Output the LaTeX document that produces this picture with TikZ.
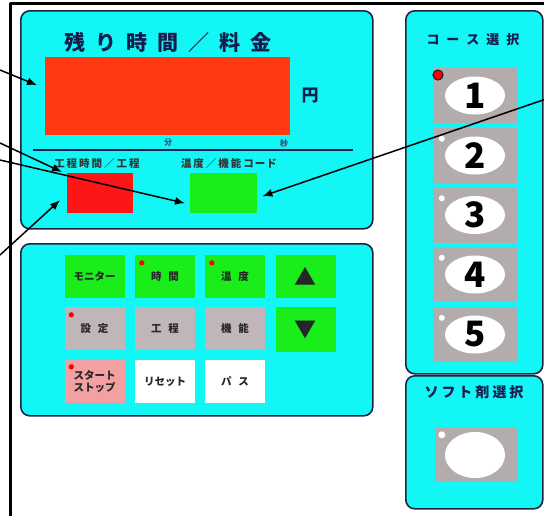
\documentclass[tikz,border=0pt]{standalone}
\usepackage{fontspec}
\newfontfamily\jp{Noto Sans CJK JP}
\usetikzlibrary{arrows.meta,shapes.geometric}
\definecolor{panelcyan}{RGB}{18,246,246}
\definecolor{panelline}{RGB}{28,36,64}
\definecolor{labnavy}{RGB}{22,30,78}
\definecolor{dispred}{RGB}{255,58,18}
\definecolor{boxred}{RGB}{252,22,22}
\definecolor{keygreen}{RGB}{26,238,26}
\definecolor{keygray}{RGB}{192,182,186}
\definecolor{keypink}{RGB}{242,160,162}
\definecolor{coursegray}{RGB}{178,172,172}
\definecolor{ledred}{RGB}{255,0,0}

\begin{document}
\begin{tikzpicture}[x=1pt,y=-1pt,line join=round,
  panel/.style={draw=panelline,line width=1.6pt,fill=panelcyan,rounded corners=9pt,anchor=north west,inner sep=0pt},
  key/.style={minimum width=60pt,minimum height=43pt,inner sep=0pt,text=black!85,font=\jp\bfseries\fontsize{10.5}{11}\selectfont,align=center},
  course/.style={fill=coursegray,minimum width=84pt,minimum height=55pt,inner sep=0pt},
  pad/.style={ellipse,fill=white,minimum width=60pt,minimum height=38pt,inner sep=0pt,font=\jp\bfseries\fontsize{35}{35}\selectfont},
  title/.style={text=labnavy,font=\jp\bfseries\fontsize{#1}{#1}\selectfont,inner sep=0pt},
  arr/.style={-{Latex[length=10pt,width=8pt]},line width=1.5pt}]
\useasboundingbox (0,0) rectangle (544,515);
\draw[line width=3pt] (546,3) -- (10,3) -- (10,520);
\node[panel,minimum width=352pt,minimum height=218pt] (dpanel) at (20,10) {};
\node[panel,minimum width=352pt,minimum height=172pt] (kpanel) at (20,243) {};
\node[panel,minimum width=137pt,minimum height=363pt] (cpanel) at (405,10) {};
\node[panel,minimum width=137pt,minimum height=133pt] (spanel) at (405,375) {};
\node[title=21] (dtitle) at (168,42) {残\hspace{10pt}り\hspace{10pt}時\hspace{10pt}間\hspace{10pt}／\hspace{10pt}料\hspace{10pt}金};
\node[fill=dispred,minimum width=245pt,minimum height=78pt,inner sep=0pt,anchor=north west] (disp) at (45,57) {};
\node[title=17] (yen) at (310,96) {円};
\node[title=8,text=labnavy!80] (fun) at (168,143) {分};
\node[title=8,text=labnavy!80] (byo) at (284,143) {秒};
\draw[line width=1.4pt,labnavy] (33,150) -- (353,150);
\node[title=10.5,text=black!80] (tlab) at (97,163) {工\hspace{2pt}程\hspace{2pt}時\hspace{2pt}間\hspace{2pt}／\hspace{2pt}工\hspace{2pt}程};
\node[title=10.5,text=black!80] (clab) at (229,163) {温\hspace{2pt}度\hspace{2pt}／\hspace{2pt}機\hspace{2pt}能\hspace{2pt}コ\hspace{1pt}ー\hspace{1pt}ド};
\node[fill=boxred,minimum width=66pt,minimum height=40pt,inner sep=0pt,anchor=north west] (tbox) at (67,173) {};
\node[fill=keygreen,minimum width=67pt,minimum height=40pt,inner sep=0pt,anchor=north west] (cbox) at (190,173) {};
\node[key,fill=keygreen] (kmon) at (94.5,276.5) {モニター};
\node[key,fill=keygreen] (ktime) at (165,276.5) {時\hspace{7pt}間};
\node[key,fill=keygreen] (ktemp) at (235,276.5) {温\hspace{7pt}度};
\node[key,fill=keygreen,font=\jp\fontsize{22}{22}\selectfont] (kup) at (305.5,276.5) {▲};
\node[key,fill=keygray] (kset) at (94.5,328.5) {設\hspace{7pt}定};
\node[key,fill=keygray] (kstep) at (165,328.5) {工\hspace{7pt}程};
\node[key,fill=keygray] (kfunc) at (235,328.5) {機\hspace{7pt}能};
\node[key,fill=keygreen,minimum height=45pt,font=\jp\fontsize{22}{22}\selectfont] (kdown) at (305.5,329.5) {▼};
\node[key,fill=keypink,font=\jp\bfseries\fontsize{10.5}{11.5}\selectfont] (kstart) at (94.5,381.5) {スタート\\ストップ};
\node[key,fill=white] (kreset) at (165,381.5) {リセット};
\node[key,fill=white] (kpass) at (235,381.5) {パ\hspace{7pt}ス};
\fill[ledred] ([xshift=7pt,yshift=-8pt]ktime.north west) circle (2.6pt);
\fill[ledred] ([xshift=7pt,yshift=-8pt]ktemp.north west) circle (2.6pt);
\fill[ledred] ([xshift=7pt,yshift=-8pt]kset.north west) circle (2.6pt);
\fill[ledred] ([xshift=7pt,yshift=-7pt]kstart.north west) circle (2.6pt);
\node[title=13] (ctitle) at (473,40) {コ\hspace{7pt}ー\hspace{7pt}ス\hspace{7pt}選\hspace{7pt}択};
\node[course] (c1) at (475,95.5) {};
\node[course] (c2) at (475,155.5) {};
\node[course] (c3) at (475,215) {};
\node[course] (c4) at (475,274.5) {};
\node[course] (c5) at (475,334.5) {};
\node[pad] (n1) at (c1) {1};
\node[pad] (n2) at (c2) {2};
\node[pad] (n3) at (c3) {3};
\node[pad] (n4) at (c4) {4};
\node[pad] (n5) at (c5) {5};
\fill[white] ([xshift=9pt,yshift=-11pt]c2.north west) circle (3pt);
\fill[white] ([xshift=9pt,yshift=-11pt]c3.north west) circle (3pt);
\fill[white] ([xshift=9pt,yshift=-11pt]c4.north west) circle (3pt);
\fill[white] ([xshift=9pt,yshift=-11pt]c5.north west) circle (3pt);
\node[circle,fill=ledred,draw=black!85,line width=1.2pt,minimum size=10pt,inner sep=0pt] (led) at (438,75) {};
\node[title=14] (stitle) at (474,392) {ソ\hspace{3pt}フ\hspace{3pt}ト\hspace{3pt}剤\hspace{3pt}選\hspace{3pt}択};
\node[course,minimum width=82pt] (soft) at (476,454.5) {};
\node[pad,minimum height=46pt] (softpad) at (475,455) {};
\fill[white] ([xshift=7pt,yshift=-8pt]soft.north west) circle (3.5pt);
\coordinate (p1) at (0,70);
\coordinate (p2) at (0,143);
\coordinate (p3) at (0,160);
\coordinate (p4) at (0,255);
\coordinate (p5) at (546,99);
\draw[arr] (p1) -- ([xshift=-8pt,yshift=11pt]disp.west);
\draw[arr] (p2) -- ([xshift=-5pt,yshift=1pt]tbox.north west);
\draw[arr] (p3) -- ([xshift=-5pt,yshift=-10pt]cbox.west);
\draw[arr] (p4) -- ([xshift=-7pt,yshift=-7pt]tbox.west);
\draw[arr] (p5) -- ([xshift=5pt,yshift=-3pt]cbox.east);
\end{tikzpicture}
\end{document}
